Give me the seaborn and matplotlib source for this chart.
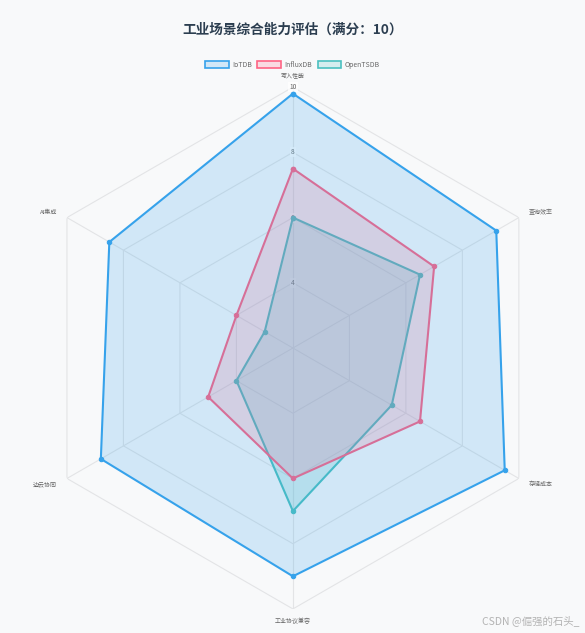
import numpy as np
import pandas as pd
import matplotlib
matplotlib.use("Agg")
import matplotlib.pyplot as plt
from matplotlib.patches import Patch
import matplotlib.colors as mcolors
import seaborn as sns

# ---- data ----
categories = ["写入性能", "查询效率", "存储成本", "工业协议兼容", "边云协同", "AI集成"]
series_names = ["IoTDB", "InfluxDB", "OpenTSDB"]
iotdb = [9.8, 9.2, 9.5, 9.0, 8.8, 8.5]
influxdb = [7.5, 7.0, 6.5, 6.0, 5.0, 4.0]
opentsdb = [6.0, 6.5, 5.5, 7.0, 4.0, 3.0]
radial_ticks = [4, 6, 8, 10]
r_min, r_max = 2, 10
title = "工业场景综合能力评估（满分：10）"
watermark = "CSDN @倔强的石头_"

colors = {"IoTDB": "#36A2EB", "InfluxDB": "#FF6384", "OpenTSDB": "#4BC0C0"}
values = {"IoTDB": iotdb, "InfluxDB": influxdb, "OpenTSDB": opentsdb}

sns.set_theme(style="white")
plt.rcParams["font.family"] = ["Noto Sans CJK SC", "DejaVu Sans"]

bg = "#f8f9fa"
fig = plt.figure(figsize=(5.85, 6.33), dpi=100, facecolor=bg)
ax = fig.add_axes([0.0547, 0.0379, 0.892, 0.8246], projection="polar")
ax.set_facecolor(bg)
ax.set_theta_offset(np.pi / 2)
ax.set_theta_direction(-1)
ax.set_ylim(r_min, r_max)
ax.grid(False)
ax.spines["polar"].set_visible(False)
ax.set_xticks([])
ax.set_yticks([])

n = len(categories)
angles = np.linspace(0, 2 * np.pi, n, endpoint=False)
closed_angles = np.concatenate([angles, [2 * np.pi]])

grid_color = "#e3e4e6"
# polygon grid rings
for t in radial_ticks:
    ax.plot(closed_angles, [t] * (n + 1), color=grid_color, lw=0.8, zorder=0.5)
# spokes
for a in angles:
    ax.plot([a, a], [r_min, r_max], color=grid_color, lw=0.8, zorder=0.5)

# radial tick labels
for t in radial_ticks:
    ax.text(0, t, str(t), ha="center", va="center", fontsize=4.8, color="#666666",
            zorder=0.8,
            bbox=dict(boxstyle="square,pad=0.15", fc=(1, 1, 1, 0.75), ec="none"))

# category labels
label_r = 10.35
for a, lab in zip(angles, categories):
    deg = np.degrees(a) % 360
    if deg < 1 or abs(deg - 180) < 1:
        ha = "center"
    elif deg < 180:
        ha = "left"
    else:
        ha = "right"
    ax.text(a, label_r, lab, ha=ha, va="center", fontsize=4.3, color="#666666")

# data: draw last series first so the first one lies on top (as in Chart.js)
rows = []
for name in series_names:
    v = values[name]
    for th, val in zip(closed_angles, list(v) + [v[0]]):
        rows.append({"theta": th, "value": val, "series": name})
df = pd.DataFrame(rows)

for i, name in enumerate(reversed(series_names)):
    sub = df[df["series"] == name]
    c = colors[name]
    ax.fill(sub["theta"], sub["value"], color=mcolors.to_rgba(c, 0.2), lw=0,
            zorder=2 + 2 * i)
    sns.lineplot(data=sub, x="theta", y="value", sort=False, estimator=None,
                 color=c, lw=1.5, marker="o", markersize=3.2,
                 markeredgecolor=c, markerfacecolor=c, ax=ax,
                 zorder=3 + 2 * i, legend=False)

ax.set_xlabel("")
ax.set_ylabel("")
ax.set_xticks([])
ax.set_yticks([])
ax.set_ylim(r_min, r_max)

# title
fig.text(0.5, 1 - 30 / 633, title, ha="center", va="center", fontsize=9.8,
         fontweight="bold", color="#2c3e50")

# legend
handles = [Patch(facecolor=mcolors.to_rgba(colors[s], 0.2), edgecolor=colors[s],
                 linewidth=1.2, label=s) for s in series_names]
leg = fig.legend(handles=handles, loc="center", bbox_to_anchor=(0.5, 1 - 65 / 633),
                 ncol=3, frameon=False, fontsize=5, handlelength=3.4,
                 handleheight=1.2, handletextpad=0.5, columnspacing=0.8)
for txt in leg.get_texts():
    txt.set_color("#666666")

# watermark
fig.text(0.991, 1 - 621 / 633, watermark, ha="right", va="center", fontsize=7.5,
         color="#b3b3b3")

fig.savefig("out.png", dpi=100, facecolor=bg)
